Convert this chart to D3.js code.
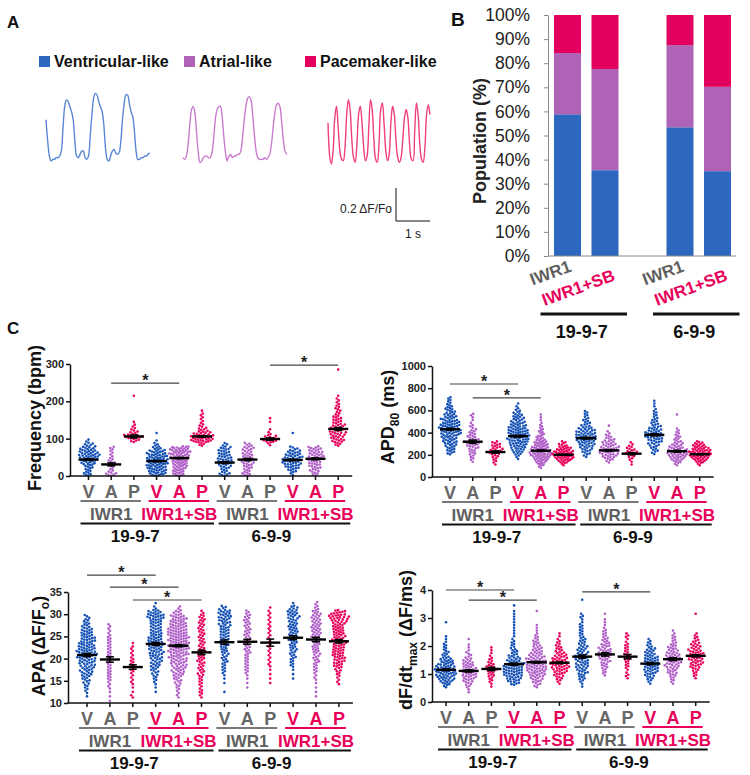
<!DOCTYPE html>
<html><head><meta charset="utf-8">
<script src="https://cdn.jsdelivr.net/npm/d3@7"></script>
<style>body{margin:0;background:#fff}svg{display:block}</style>
</head><body><svg id="fig" width="750" height="775"></svg>
<script>
// ================= DATA =================
// Panel A
const legendLabels = ["Ventricular-like", "Atrial-like", "Pacemaker-like"];
const traceDt = 0.05; // s per sample
const ventricularTrace = [0.25,0.12,0.03,0.0,0.01,0.01,0.02,0.02,0.03,0.06,0.2,0.33,0.37,0.36,0.33,0.30,0.25,0.12,0.03,0.02,0.04,0.06,0.06,0.02,0.01,0.03,0.15,0.28,0.38,0.41,0.40,0.36,0.33,0.30,0.22,0.08,0.01,0.0,0.03,0.06,0.07,0.05,0.04,0.05,0.12,0.25,0.35,0.40,0.40,0.35,0.30,0.27,0.18,0.06,0.01,0.01,0.02,0.02,0.03,0.03,0.04,0.05];
const atrialTrace = [0.02,0.01,0.03,0.10,0.22,0.31,0.33,0.29,0.17,0.05,-0.01,0.0,0.02,0.03,0.03,0.02,0.02,0.05,0.13,0.25,0.31,0.33,0.33,0.27,0.15,0.05,0.0,0.03,0.04,0.02,0.03,0.03,0.04,0.04,0.06,0.14,0.25,0.33,0.38,0.39,0.37,0.28,0.16,0.06,0.02,0.01,0.01,0.01,0.02,0.01,0.02,0.04,0.10,0.20,0.29,0.34,0.35,0.33,0.24,0.13,0.06,0.04];
const pacemakerTrace = [0.25,0.05,0.0,0.08,0.28,0.35,0.22,0.08,0.03,0.02,0.10,0.30,0.39,0.33,0.15,0.04,0.01,0.12,0.30,0.35,0.25,0.10,0.02,0.05,0.22,0.39,0.33,0.15,0.03,0.01,0.12,0.33,0.37,0.24,0.08,0.02,0.06,0.25,0.35,0.30,0.14,0.04,0.01,0.04,0.15,0.28,0.33,0.28,0.12,0.03,0.02,0.20,0.37,0.30,0.12,0.03,0.01,0.10,0.30,0.36,0.30];
const scaleBarAmp = 0.2, scaleBarTime = 1;

// Panel B (population %)
const popTreatments = ["IWR1", "IWR1+SB", "IWR1", "IWR1+SB"];
const popCellLines = ["19-9-7", "6-9-9"];
const popVentricular = [58.8, 35.6, 53.4, 35.2];
const popAtrial = [25.4, 42.0, 34.1, 35.0];
const popPacemaker = [15.8, 22.4, 12.5, 29.8];
const popTicks = [0,10,20,30,40,50,60,70,80,90,100];

// Panel C shared categories
const cellTypes = ["V","A","P","V","A","P","V","A","P","V","A","P"];
const treatments = ["IWR1","IWR1+SB","IWR1","IWR1+SB"];
const cellLines = ["19-9-7","6-9-9"];

// Frequency (bpm): histogram counts per group, bin width 10
const freqBinW = 10;
const freqStarts = [0,0,90,0,0,80,0,0,80,0,0,80];
const freqCounts = [
  [5,4,5,8,10,12,10,8,5,2],
  [6,3,2,4,3,2,2,3],
  [5,10,5,3,2,1,0,0,0,0,0,0,1],
  [10,11,12,13,13,12,10,6,3,1,0,1],
  [8,8,9,10,11,12,13,12],
  [4,13,13,9,5,3,2,2,2,1],
  [6,4,6,7,8,7,6,6,3],
  [5,4,5,6,6,6,5,6,4],
  [2,8,6,2,1,0,1,1],
  [2,5,8,10,10,9,7,4,0,0,0,1],
  [4,5,6,7,7,8,7,7],
  [4,7,7,8,7,7,5,5,3,3,3,2,2,1,0,0,0,0,0,0,1]
];
const freqMeans = [44,31,106,40,48,106,36,44,99,43,46,126];
const freqSEM = [2,4,4,1.5,1.5,1.5,2.5,3,3,2,2.5,4];
const freqTicks = [0,100,200,300];
const freqSig = [[1,4,249],[8,11,297]];

// APD80 (ms): bin width 25
const apdBinW = 25;
const apdStarts = [200,125,100,150,75,100,175,125,100,200,100,100];
const apdCounts = [
  [3,4,4,5,6,6,7,8,9,9,9,8,7,6,5,4,4,3,2,2,2],
  [1,2,2,3,3,4,5,6,4,4,3,3,2,2,1,1,1,2],
  [1,2,2,3,4,5,4,4,3],
  [1,2,4,5,6,7,8,9,9,9,9,8,7,6,5,5,4,3,2,1,1],
  [2,4,6,8,10,11,10,9,8,7,5,4,3,3,2,2,1,1,1,1],
  [2,6,9,11,11,9,7,4,3],
  [2,3,4,5,6,7,8,8,8,7,6,4,3,3,2,2,2],
  [2,4,6,7,8,7,6,5,4,3,2,1,0,1],
  [1,1,2,3,5,4,3,2,1],
  [2,3,3,4,5,6,7,7,6,5,4,3,3,2,2,2,1,1,1,1],
  [2,4,6,8,9,8,7,5,4,3,3,2,2,1,0,0,0,0,1],
  [2,5,8,10,11,10,8,6,4]
];
const apdMeans = [430,318,225,368,237,200,350,240,210,380,232,205];
const apdSEM = [8,15,10,8,6,4,8,7,10,10,8,4];
const apdTicks = [0,200,400,600,800,1000];
const apdSig = [[0,3,838],[1,4,712]];

// APA (ΔF/Fo): bin width 1
const apaBinW = 1;
const apaStarts = [11,10,11,12,11,11,11,13,14,15,11,14];
const apaCounts = [
  [1,2,3,4,5,7,8,9,10,11,12,11,10,9,8,7,5,4,3],
  [1,1,1,2,2,3,3,3,3,3,3,3,3,3,3,2,2,2],
  [2,1,1,2,2,2,3,3,3,2,2,2,1],
  [1,1,2,3,4,5,6,7,8,9,9,10,9,8,7,7,8,11,9,2,1],
  [2,2,3,4,5,7,8,9,10,11,12,13,13,13,13,12,11,10,9,5,2],
  [2,3,2,3,3,4,4,4,5,5,5,4,4,4,4,4,4,4,4,2],
  [0,1,0,1,1,2,3,3,4,4,5,5,6,6,6,6,7,7,8,8,4],
  [1,1,1,2,3,3,3,3,4,4,4,4,4,4,4,4,4,3],
  [1,1,1,1,2,2,2,2,2,2,2,2,2,2,2,2,2,1],
  [1,1,1,3,3,4,4,5,5,6,6,6,6,6,7,7,5,1],
  [1,1,1,1,2,2,3,3,4,4,5,5,5,6,6,6,6,6,6,5,3,2],
  [2,2,3,4,6,7,8,8,8,8,8,8,8,8,9,12,8]
];
const apaMeans = [20.8,19.8,18.1,23.3,22.9,21.4,23.7,23.8,23.6,24.7,24.3,23.9];
const apaSEM = [0.35,0.6,0.5,0.35,0.25,0.5,0.5,0.55,0.8,0.45,0.5,0.4];
const apaTicks = [10,15,20,25,30,35];
const apaSig = [[0,3,38.8],[1,4,36.1],[2,5,33.2]];

// dF/dt max (ΔF/ms): bin width 0.1
const dfBinW = 0.1;
const dfStarts = [0.5,0.3,0.5,0.6,0.5,0.6,0.5,0.9,0.8,0.6,0.6,0.8];
const dfCounts = [
  [2,4,6,7,8,9,9,8,7,6,5,3,3,2,2,2,1,1,1,0,0,0,0,1],
  [1,1,2,3,4,5,6,6,6,5,5,4,3,2,2,1,1,1,0,1],
  [1,1,2,2,3,3,4,4,3,2,2,1,1,1,1],
  [4,5,6,7,8,8,8,7,6,5,4,3,3,2,2,2,1,1,1,1,1,1,1,1,1,1,1,0,1],
  [2,3,4,5,6,7,8,8,8,8,7,6,5,4,4,3,3,2,2,1,1,1,1,0,0,0,0,1],
  [1,2,3,4,5,6,7,7,6,6,5,4,3,3,2,2,1,1,1],
  [1,1,2,3,3,4,4,5,5,5,5,5,4,4,4,3,3,3,2,2,2,2,2,1,1,2,1,0,0,0,0,1],
  [1,2,2,3,3,4,4,5,5,5,4,4,3,3,2,2,2,1,1,1,1,0,1],
  [1,2,1,1,2,2,2,3,3,2,2,2,2,1,1,2,1],
  [1,2,3,4,5,6,6,6,6,6,5,4,4,3,2,2,1],
  [1,2,2,3,4,4,5,6,6,6,6,5,4,4,3,2,2,2,1,1],
  [1,2,2,3,4,5,5,6,6,6,5,4,4,3,2,2,1,0,0,0,0,0,0,1]
];
const dfMeans = [1.15,1.11,1.18,1.35,1.42,1.40,1.62,1.70,1.62,1.37,1.53,1.65];
const dfSEM = [0.03,0.04,0.06,0.04,0.03,0.03,0.06,0.06,0.08,0.04,0.05,0.04];
const dfTicks = [0,1,2,3,4];
const dfSig = [[0,3,4.0],[1,4,3.64],[6,9,3.93]];

// ================= STYLE / LAYOUT =================
const FONT = "'Liberation Sans', Arial, Helvetica, sans-serif";
const barColors = {V:"#2D67C0", A:"#AE63B6", P:"#E4005E"};
const dotColors = {V:"#1350B5", A:"#B05EC7", P:"#E8005B"};
const traceColors = ["#5A86D6", "#C97CCE", "#F03F7B"];
const grayText = "#5f5f5f", pinkText = "#E8005A";

const svg = d3.select("#fig").attr("font-family", FONT);
svg.append("rect").attr("width", 750).attr("height", 775).attr("fill", "#fff");

function txt(g, s, x, y, size, weight, fill, anchor) {
  return g.append("text").attr("x", x).attr("y", y).attr("font-size", size)
    .attr("font-weight", weight || "normal").attr("fill", fill || "#111")
    .attr("text-anchor", anchor || "start").text(s);
}

// Panel letters
txt(svg, "A", 7, 28, 17, "bold", "#111");
txt(svg, "B", 451, 26, 19, "bold", "#111");
txt(svg, "C", 7, 334, 17, "bold", "#111");

// ================= PANEL A =================
const legX = [39, 184, 305];
const legTypes = ["V","A","P"];
legendLabels.forEach((lab, i) => {
  svg.append("rect").attr("x", legX[i]).attr("y", 56).attr("width", 11).attr("height", 11).attr("fill", barColors[legTypes[i]]);
  txt(svg, lab, legX[i] + 15, 67, 16, "bold", "#111");
});
const tX = d3.scaleLinear().domain([0, 1]).range([0, 34]);
const tY = d3.scaleLinear().domain([0, 0.2]).range([0, -33]);
const traceLine = d3.line().x((d, i) => tX(i * traceDt)).y(d => tY(d)).curve(d3.curveCatmullRom);
[[ventricularTrace, 46, 161], [atrialTrace, 183, 161], [pacemakerTrace, 328, 164]].forEach(([tr, ox, oy], i) => {
  svg.append("path").attr("transform", `translate(${ox},${oy})`).attr("d", traceLine(tr))
    .attr("fill", "none").attr("stroke", traceColors[i]).attr("stroke-width", 1.4);
});
const sb = svg.append("g").attr("transform", "translate(396,221)");
sb.append("line").attr("x1", 0).attr("x2", 0).attr("y1", 0).attr("y2", tY(scaleBarAmp)).attr("stroke", "#111").attr("stroke-width", 1);
sb.append("line").attr("x1", 0).attr("x2", tX(scaleBarTime)).attr("y1", 0).attr("y2", 0).attr("stroke", "#111").attr("stroke-width", 1);
txt(sb, "0.2 \u0394F/Fo", -4, -8, 12, "normal", "#222", "end");
txt(sb, "1 s", tX(scaleBarTime) / 2, 17, 12, "normal", "#222", "middle");

// ================= PANEL B =================
const yB = d3.scaleLinear().domain([0, 100]).range([256, 15]);
const xB = d3.scaleLinear().domain([0, 4]).range([567.5, 717.5]);
const barSlots = [0, 1, 3, 4];
const barW = 27;
const popRows = popVentricular.map((v, i) => ({V: v, A: popAtrial[i], P: popPacemaker[i]}));
const stackB = d3.stack().keys(["V","A","P"])(popRows);
const gB = svg.append("g");
stackB.forEach(layer => {
  gB.selectAll(null).data(layer).join("rect")
    .attr("x", (d, i) => xB(barSlots[i]) - barW / 2).attr("width", barW)
    .attr("y", d => yB(Math.min(100, d[1]))).attr("height", d => yB(d[0]) - yB(Math.min(100, d[1])))
    .attr("fill", barColors[layer.key]);
});
const axB = gB.append("g").attr("transform", "translate(548,0)")
  .call(d3.axisLeft(yB).tickValues(popTicks).tickFormat(d => d + "%").tickSize(4).tickSizeOuter(0).tickPadding(14));
axB.select(".domain").attr("stroke", "#8a8a8a");
axB.selectAll(".tick line").attr("stroke", "#8a8a8a");
axB.selectAll("text").attr("font-size", 17.5).attr("fill", "#222").attr("font-family", FONT);
gB.append("line").attr("x1", 548).attr("x2", 736).attr("y1", 256).attr("y2", 256).attr("stroke", "#8a8a8a");
gB.append("text").attr("transform", "translate(480,141) rotate(-90)").attr("text-anchor", "middle")
  .attr("dy", "0.35em").attr("font-size", 18).attr("font-weight", "bold").attr("fill", "#222").text("Population (%)");
popTreatments.forEach((t, i) => {
  const isSB = i % 2 === 1;
  const xe = xB(barSlots[i]) + (isSB ? 11 : 5);
  const ye = isSB ? 280 : 271;
  gB.append("text").attr("transform", `translate(${xe},${ye}) rotate(-20)`).attr("text-anchor", "end")
    .attr("font-size", 17).attr("font-weight", "bold").attr("fill", isSB ? pinkText : grayText).text(t);
});
popCellLines.forEach((c, k) => {
  const x1 = xB(barSlots[2 * k]) - 27, x2 = xB(barSlots[2 * k + 1]) + 22;
  gB.append("line").attr("x1", x1).attr("x2", x2).attr("y1", 314).attr("y2", 314).attr("stroke", "#111").attr("stroke-width", 3);
  txt(gB, c, (x1 + x2) / 2 - 2, 338, 18, "bold", "#111", "middle");
});

// ================= PANEL C =================
function dodge(ys, D) {
  const placed = [], xs = [];
  ys.forEach(y => {
    const iv = [];
    placed.forEach(p => {
      const dy = Math.abs(p.y - y);
      if (dy < D) { const dx = Math.sqrt(D * D - dy * dy); iv.push([p.x - dx, p.x + dx]); }
    });
    const cands = [0];
    iv.forEach(([a, b]) => cands.push(a, b));
    cands.sort((a, b) => Math.abs(a) - Math.abs(b));
    const x = cands.find(c => iv.every(([a, b]) => c <= a + 1e-6 || c >= b - 1e-6));
    placed.push({x, y});
    xs.push(x);
  });
  return xs;
}

function dotPanel(L, D) {
  const g = svg.append("g");
  const y = d3.scaleLinear().domain(L.domain).range([L.y0, L.y1]);
  const x = d3.scalePoint().domain(d3.range(12)).range([L.c0, L.c0 + 11 * L.step]);
  // dots
  D.counts.forEach((cnt, gi) => {
    const vals = [];
    cnt.forEach((c, j) => { for (let k = 0; k < c; k++) vals.push(D.starts[gi] + (j + (k + 0.5) / c) * D.binW); });
    const pys = vals.map(v => y(v)).sort((a, b) => b - a);
    const xs = dodge(pys, 2.7);
    const m = d3.max(xs, v => Math.abs(v)) || 1;
    const f = Math.min(1, 11 / m);
    g.append("g").selectAll("circle").data(pys).join("circle")
      .attr("cx", (d, i) => x(gi) + xs[i] * f).attr("cy", d => d).attr("r", 1.3)
      .attr("fill", dotColors[cellTypes[gi]]);
  });
  // mean + SEM
  D.means.forEach((mu, gi) => {
    const cx = x(gi);
    g.append("line").attr("x1", cx - 10).attr("x2", cx + 10).attr("y1", y(mu)).attr("y2", y(mu)).attr("stroke", "#000").attr("stroke-width", 2.4);
    const lo = y(mu - D.sem[gi]), hi = y(mu + D.sem[gi]);
    g.append("line").attr("x1", cx).attr("x2", cx).attr("y1", lo).attr("y2", hi).attr("stroke", "#000").attr("stroke-width", 1.5);
    [lo, hi].forEach(yy => g.append("line").attr("x1", cx - 4).attr("x2", cx + 4).attr("y1", yy).attr("y2", yy).attr("stroke", "#000").attr("stroke-width", 1.5));
  });
  // y axis
  const ax = g.append("g").attr("transform", `translate(${L.axisX},0)`)
    .call(d3.axisLeft(y).tickValues(D.ticks).tickFormat(d3.format("d")).tickSize(4).tickSizeOuter(0).tickPadding(2));
  ax.select(".domain").attr("stroke", "#111").attr("stroke-width", 1.5);
  ax.selectAll(".tick line").attr("stroke", "#111").attr("stroke-width", 1.5);
  ax.selectAll("text").attr("font-size", 11).attr("font-weight", "bold").attr("fill", "#222").attr("font-family", FONT);
  // x axis
  g.append("line").attr("x1", L.axisX - 0.75).attr("x2", x(11) + 14).attr("y1", L.y0).attr("y2", L.y0).attr("stroke", "#111").attr("stroke-width", 1.5);
  d3.range(12).forEach(i => g.append("line").attr("x1", x(i)).attr("x2", x(i)).attr("y1", L.y0).attr("y2", L.y0 + 4).attr("stroke", "#111").attr("stroke-width", 1.5));
  // significance
  D.sig.forEach(([a, b, lev]) => {
    g.append("line").attr("x1", x(a)).attr("x2", x(b)).attr("y1", y(lev)).attr("y2", y(lev)).attr("stroke", "#444").attr("stroke-width", 1.2);
    txt(g, "*", (x(a) + x(b)) / 2, y(lev) + 3, 16, "bold", "#222", "middle");
  });
  // category labels
  cellTypes.forEach((t, i) => {
    const sbk = Math.floor(i / 3) % 2 === 1;
    txt(g, t, x(i), L.y0 + 22, 18, "bold", sbk ? pinkText : "#666", "middle");
  });
  treatments.forEach((t, k) => {
    const sbk = k % 2 === 1;
    g.append("line").attr("x1", x(3 * k) - 8).attr("x2", x(3 * k + 2) + 7).attr("y1", L.y0 + 25).attr("y2", L.y0 + 25)
      .attr("stroke", sbk ? pinkText : "#777").attr("stroke-width", 2);
    txt(g, t, x(3 * k + 1), L.y0 + 44, 17, "bold", sbk ? pinkText : grayText, "middle");
  });
  cellLines.forEach((c, k) => {
    const x1 = x(6 * k) - (k === 0 ? 8 : 6), x2 = x(6 * k + 5) + 12;
    g.append("line").attr("x1", x1).attr("x2", x2).attr("y1", L.y0 + 47.5).attr("y2", L.y0 + 47.5).attr("stroke", "#111").attr("stroke-width", 2);
    txt(g, c, (x(6 * k) + x(6 * k + 5)) / 2 - 10, L.y0 + 66, 17, "bold", "#111", "middle");
  });
  // title
  const tt = g.append("text").attr("transform", `translate(${L.tx},${L.ty}) rotate(-90)`).attr("text-anchor", "middle")
    .attr("dy", "0.35em").attr("font-size", 18).attr("font-weight", "bold").attr("fill", "#111");
  L.title(tt);
}

dotPanel({axisX: 70, c0: 88.5, step: 22.7, y0: 476, y1: 364, domain: [0, 300], tx: 35, ty: 418,
  title: t => t.text("Frequency (bpm)")},
  {counts: freqCounts, starts: freqStarts, binW: freqBinW, means: freqMeans, sem: freqSEM, ticks: freqTicks, sig: freqSig});

dotPanel({axisX: 432, c0: 450, step: 22.7, y0: 477, y1: 366, domain: [0, 1000], tx: 388, ty: 417,
  title: t => { t.append("tspan").text("APD"); t.append("tspan").attr("font-size", 12).attr("dy", 5).text("80"); t.append("tspan").attr("dy", -5).text(" (ms)"); }},
  {counts: apdCounts, starts: apdStarts, binW: apdBinW, means: apdMeans, sem: apdSEM, ticks: apdTicks, sig: apdSig});

dotPanel({axisX: 68, c0: 87, step: 22.9, y0: 703, y1: 592, domain: [10, 35], tx: 39, ty: 646,
  title: t => { t.append("tspan").text("APA (\u0394F/F"); t.append("tspan").attr("font-size", 12).attr("dy", 4).text("o"); t.append("tspan").attr("dy", -4).text(")"); }},
  {counts: apaCounts, starts: apaStarts, binW: apaBinW, means: apaMeans, sem: apaSEM, ticks: apaTicks, sig: apaSig});

dotPanel({axisX: 432, c0: 446, step: 22.7, y0: 702, y1: 590, domain: [0, 4], tx: 406, ty: 640,
  title: t => { t.append("tspan").text("dF/dt"); t.append("tspan").attr("font-size", 12).attr("dy", 5).text("max"); t.append("tspan").attr("dy", -5).text(" (\u0394F/ms)"); }},
  {counts: dfCounts, starts: dfStarts, binW: dfBinW, means: dfMeans, sem: dfSEM, ticks: dfTicks, sig: dfSig});
</script>
</body></html>
